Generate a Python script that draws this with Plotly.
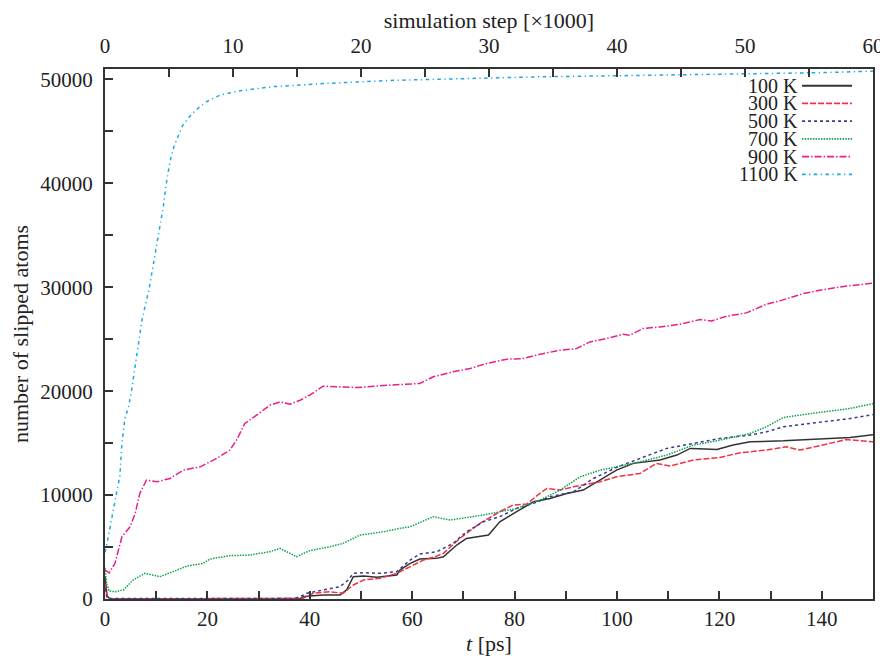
import plotly.graph_objects as go

# ---------------- data ----------------
labels = ["100 K", "300 K", "500 K", "700 K", "900 K", "1100 K"]

t_100 = [0, 0.4, 1, 10, 20, 30, 38, 38.7, 40, 42.6, 45.9, 47.2, 48.5, 50.5, 53.1, 57, 57.6,
         59.6, 61.5, 64.8, 66.1, 68.7, 70.6, 74.9, 77.1, 80.4, 83.7, 86.9, 90.2, 93.4, 96.7,
         99.9, 103.2, 108.4, 111.7, 114.3, 116, 119.5, 122.7, 126, 132.5, 139, 145.5, 150]
n_100 = [2200, 300, 0, 0, 0, 0, 0, 220, 300, 380, 380, 870, 2150, 2210, 2090, 2310, 2790,
         3430, 3850, 3910, 4070, 5190, 5830, 6150, 7430, 8400, 9360, 9680, 10160, 10480, 11440,
         12400, 13050, 13370, 13850, 14490, 14450, 14390, 14810, 15130, 15220, 15350, 15550, 15800]

t_300 = [0, 0.4, 1, 10, 20, 30, 38, 38.7, 40.7, 43.9, 46.5, 48.5, 50.5, 53.7, 57, 59.6, 62.2,
         64.8, 66.1, 69.3, 73.2, 77.1, 79.7, 82.4, 84.5, 86.3, 88.9, 91.5, 96.7, 99.9, 104.5,
         107.7, 110.4, 114.9, 120.1, 124, 129.2, 133.1, 135.7, 140.9, 144.8, 147, 150]
n_300 = [1500, 200, 0, 0, 0, 0, 0, 70, 550, 700, 550, 1350, 1830, 1990, 2470, 3110, 3750,
         4130, 4390, 5830, 7270, 8400, 9040, 9140, 10000, 10640, 10480, 10800, 11280, 11760, 12080,
         13050, 12790, 13370, 13620, 14070, 14330, 14650, 14330, 14900, 15350, 15250, 15130]

t_500 = [0, 0.4, 1, 10, 20, 30, 37, 38, 39.4, 42.6, 45.9, 47.5, 48.5, 50.5, 53.7, 57, 59.6,
         61.5, 64.8, 68, 70.6, 73.9, 77.1, 80.4, 83.7, 86.9, 91.5, 95.4, 99.9, 104.5, 109.7,
         114.9, 120.1, 126, 129.2, 132.5, 139, 145.5, 150]
n_500 = [1000, 100, 50, 50, 50, 50, 50, 200, 550, 870, 1180, 1830, 2470, 2530, 2470, 2630, 3750,
         4330, 4550, 5350, 6470, 7430, 7920, 8720, 9200, 9840, 10320, 11600, 12660, 13530, 14490,
         14970, 15450, 15770, 16090, 16570, 16950, 17370, 17750]

t_700 = [0, 0.3, 0.8, 2, 3.6, 5.5, 7.8, 10.7, 13.3, 16, 19.2, 20.5, 24.4, 28.3, 32.2, 34.2,
         37.4, 40, 43.9, 46.5, 49.8, 54.4, 57.6, 59.6, 64.1, 67.4, 73.9, 77.1, 80.4, 85, 88.9,
         92.8, 96.7, 99.9, 104.5, 109.7, 114.9, 120.1, 126, 129.2, 132.5, 139, 145.5, 150]
n_700 = [3000, 1500, 770, 700, 870, 1830, 2470, 2150, 2630, 3170, 3430, 3850, 4170, 4230, 4550, 4870,
         4070, 4650, 5030, 5350, 6150, 6470, 6800, 6950, 7920, 7600, 8080, 8400, 8720, 9520, 10480,
         11760, 12400, 12720, 13200, 13850, 14810, 15290, 15930, 16570, 17470, 17920, 18330, 18800]

t_900 = [0, 0.3, 0.8, 1.95, 3.3, 4.9, 5.9, 6.8, 8.1, 10.1, 12.7, 15.3, 18.6, 21.8, 24.4, 25.7,
         27.3, 29.6, 32.2, 34.2, 36.1, 38.1, 40, 42.6, 49.2, 55.7, 61.5, 64.1, 68, 71.3, 74.5,
         78.5, 81.7, 85, 88.9, 92.1, 94.7, 98, 101.2, 102.5, 105.1, 108.4, 112.3, 116.2, 118.5,
         121.4, 125.3, 129.2, 131.8, 136.4, 139.6, 143.6, 150]
n_900 = [2800, 2650, 2500, 3430, 5990, 6950, 8240, 10160, 11440, 11280, 11600, 12400, 12720, 13530, 14330, 15290,
         16890, 17690, 18650, 18970, 18750, 19130, 19620, 20480, 20350, 20580, 20740, 21380, 21860, 22180, 22660,
         23080, 23140, 23560, 23940, 24100, 24740, 25070, 25480, 25380, 26030, 26180, 26440, 26890, 26760,
         27210, 27530, 28370, 28690, 29390, 29710, 30030, 30400]

t_1100 = [0, 0.3, 0.8, 1.5, 2.2, 2.9, 3.3, 3.9, 4.6, 5.2, 5.9, 6.6, 7.3, 8.0, 8.6, 9.3, 10.0,
          10.7, 11.4, 12.0, 12.7, 13.5, 14.3, 15.2, 16.0, 17.0, 18.6, 20, 22.5, 26.4, 32.8, 42.6,
          55.7, 70, 85, 100, 115, 130, 140, 150]
n_1100 = [4500, 5100, 6400, 8400, 10100, 11800, 15000, 17400, 18500, 20100, 22400, 25100, 27100, 28500, 29800, 31800, 33800,
          35800, 37800, 40100, 42100, 43600, 44600, 45600, 46100, 46700, 47400, 47900, 48500, 48900, 49300, 49600,
          49900, 50100, 50250, 50350, 50450, 50550, 50650, 50800]

x_ticks_bottom = [0, 20, 40, 60, 80, 100, 120, 140]
x_ticks_top = [0, 10, 20, 30, 40, 50, 60]
y_ticks = [0, 10000, 20000, 30000, 40000, 50000]

# ---------------- styles ----------------
series = [
    (t_100, n_100, "#333333", "solid"),
    (t_300, n_300, "#ee3344", "6px,2px"),
    (t_500, n_500, "#3a3a8e", "3px,3px"),
    (t_700, n_700, "#10a050", "1.5px,1.2px"),
    (t_900, n_900, "#e8208c", "7px,2px,1.5px,2px"),
    (t_1100, n_1100, "#18a8e8", "3.5px,3.5px,1.2px,3.5px"),
]

FONT = "Liberation Serif"
AX = "#333333"
TXT = "#222222"

fig = go.Figure()
for (tx, ny, col, dash), name in zip(series, labels):
    fig.add_trace(go.Scatter(x=tx, y=ny, mode="lines", name=name, showlegend=False,
                             line=dict(color=col, width=1.5, dash=dash)))

# invisible trace so the top axis exists
fig.add_trace(go.Scatter(x=[0, 60], y=[None, None], xaxis="x2", mode="lines",
                         showlegend=False, hoverinfo="skip"))

# custom legend: text right-aligned, line key at right
row_top = 0.9685
row_step = 0.0335
for i, ((tx, ny, col, dash), name) in enumerate(zip(series, labels)):
    yy = row_top - i * row_step
    fig.add_annotation(xref="paper", yref="paper", x=0.9035, y=yy, text=name,
                       showarrow=False, xanchor="right", yanchor="middle", borderpad=0,
                       font=dict(family=FONT, size=20, color=TXT))
    fig.add_shape(type="line", xref="paper", yref="paper", x0=0.9076, x1=0.9727,
                  y0=yy, y1=yy, line=dict(color=col, width=2 if dash == "solid" else 1.8, dash=dash))

axis_common = dict(showline=True, linecolor=AX, linewidth=2, ticks="inside", ticklen=8,
                   tickwidth=1.5, tickcolor=AX, showgrid=False, zeroline=False,
                   tickfont=dict(family=FONT, size=21, color=TXT))

# the page body has an 8px margin: plot area target 105..873 x 69..599 in the window
fig.update_layout(
    width=888, height=656,
    margin=dict(l=97, r=23, t=61, b=65, autoexpand=False),
    paper_bgcolor="white", plot_bgcolor="white",
    font=dict(family=FONT, size=21, color=TXT),
    xaxis=dict(range=[0, 150], tickvals=x_ticks_bottom, mirror=True,
               minor=dict(dtick=10, ticks="inside", ticklen=8, tickwidth=1.5, tickcolor=AX),
               title=dict(text="<i>t</i> [ps]", standoff=3, font=dict(family=FONT, size=22)),
               ticklabelstandoff=0, **axis_common),
    xaxis2=dict(range=[0, 60], overlaying="x", side="top", tickvals=x_ticks_top,
                minor=dict(dtick=5, ticks="inside", ticklen=8, tickwidth=1.5, tickcolor=AX),
                title=dict(text="simulation step [×1000]", standoff=2, font=dict(family=FONT, size=22)),
                ticklabelstandoff=6, **axis_common),
    yaxis=dict(range=[0, 51000], tickvals=y_ticks, tickformat="d", mirror=True,
               minor=dict(dtick=5000, ticks="inside", ticklen=8, tickwidth=1.5, tickcolor=AX),
               title=dict(text="number of slipped atoms", standoff=10, font=dict(family=FONT, size=22)),
               ticklabelstandoff=6, **axis_common),
)

fig.write_html("out.html")
